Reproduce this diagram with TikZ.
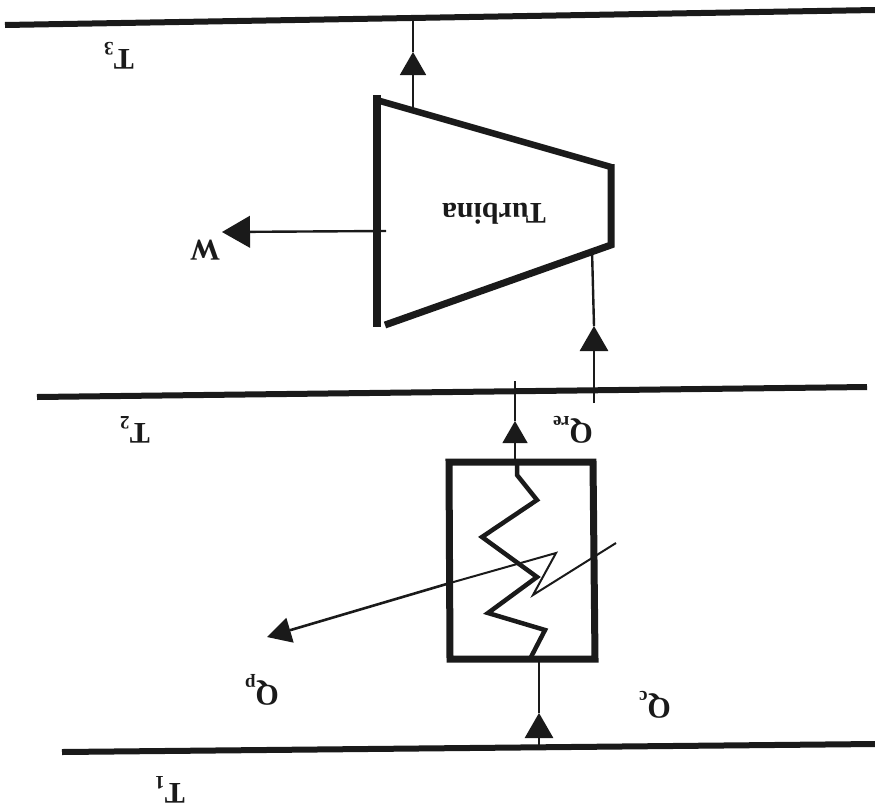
\documentclass[tikz,border=0pt]{standalone}
\usepackage{fontspec}
\setmainfont{Liberation Serif}
\usetikzlibrary{arrows.meta}
\tikzset{
  rail/.style={line width=6pt,draw=ink},
  wall/.style={line width=6.5pt,draw=ink,line cap=butt},
  thin flow/.style={line width=2.4pt,draw=ink},
  head/.style={line width=2.4pt,draw=ink,-{Triangle[length=#1pt,width=#1pt*1.15,line width=0pt]}},
  lbl/.style={rotate=180,inner sep=0pt,text=ink,font=\fontsize{30}{30}\selectfont\bfseries},
}
\definecolor{ink}{HTML}{1A1A1A}
\newcommand{\subs}[1]{\raisebox{-0.22em}{\fontsize{19}{19}\selectfont #1}}
\begin{document}
\begin{tikzpicture}[x=1pt,y=-1pt]
\useasboundingbox[fill=white] (0,0) rectangle (875,809);
% rails
\coordinate (r3a) at (5,25);   \coordinate (r3b) at (875,10);
\coordinate (r2a) at (37,397); \coordinate (r2b) at (867,387);
\coordinate (r1a) at (62,752); \coordinate (r1b) at (875,744);
\draw[rail] (r3a) -- (r3b);
\draw[rail] (r2a) -- (r2b);
\draw[rail] (r1a) -- (r1b);
% turbine
\coordinate (tTL) at (377,95);  \coordinate (tBL) at (377,327);
\coordinate (tA) at (380,101);  \coordinate (tTR) at (611,167);
\coordinate (tBR) at (611,245); \coordinate (tB) at (385,325);
\draw[wall,line width=8pt] (tTL) -- (tBL);
\draw[wall] (tA) -- (tTR);
\draw[wall,line width=7pt] (tTR) -- ++(0,-3) -- (tBR) -- (tB);
\node[lbl] (turb) at (494,214) {Turbina};
% top flow
\coordinate (t3a) at (413,112); \coordinate (t3tip) at (413,52); \coordinate (t3b) at (413,17);
\draw[thin flow] (t3tip) -- (t3b);
\draw[head=23] (t3a) -- (t3tip);
% work
\coordinate (w0) at (386,231); \coordinate (wtip) at (222,232);
\draw[head=28] (w0) -- (wtip);
\node[lbl] (wl) at (205,250) {W};
% Q_re
\coordinate (qa) at (594,403); \coordinate (qtip) at (594,326); \coordinate (qb) at (592,250);
\draw[thin flow] (qtip) -- (qb);
\draw[head=25] (qa) -- (qtip);
\node[lbl] (qre) at (573,430) {Q\subs{re}};
% box to T2
\coordinate (ba) at (515,460); \coordinate (btip) at (515,421); \coordinate (bb) at (515,381);
\draw[thin flow] (btip) -- (bb);
\draw[head=22] (ba) -- (btip);
% box
\coordinate (bTL) at (449,462); \coordinate (bTR) at (593,462);
\coordinate (bBR) at (595,659); \coordinate (bBL) at (450,659);
\draw[line width=7pt,draw=ink,line join=miter] (bBL) -- (bTL) -- (bTR) -- (bBR) -- cycle;
% coil
\coordinate (z0) at (517,462); \coordinate (z1) at (517,475); \coordinate (z2) at (537,500);
\coordinate (z3) at (482,537); \coordinate (z4) at (537,577); \coordinate (z5) at (488,613);
\coordinate (z6) at (545,630); \coordinate (z7) at (530,659);
\draw[line width=4.5pt,draw=ink] (z0) -- (z1) -- (z2) -- (z3) -- (z4) -- (z5) -- (z6) -- (z7);
% lower flow
\coordinate (la) at (539,745); \coordinate (ltip) at (539,713); \coordinate (lb) at (539,660);
\draw[thin flow] (ltip) -- (lb);
\draw[head=25] (la) -- (ltip);
% loss arrow
\coordinate (p0) at (616,543); \coordinate (p1) at (533,595); \coordinate (p2) at (556,553);
\coordinate (p3) at (450,583); \coordinate (ptip) at (267,637);
\draw[line width=2pt,draw=ink,line join=miter] (p0) -- (p1) -- (p2) -- (p3);
\draw[line width=2.6pt,draw=ink,-{Triangle[length=24pt,width=26pt,line width=0pt]}] (p3) -- (ptip);
% labels
\node[lbl] (t3) at (119,56) {T\subs{3}};
\node[lbl] (t2) at (135,430) {T\subs{2}};
\node[lbl] (t1) at (170,790) {T\subs{1}};
\node[lbl] (qp) at (262,690) {Q\subs{p}};
\node[lbl] (qc) at (655,705) {Q\subs{c}};
\end{tikzpicture}
\end{document}
